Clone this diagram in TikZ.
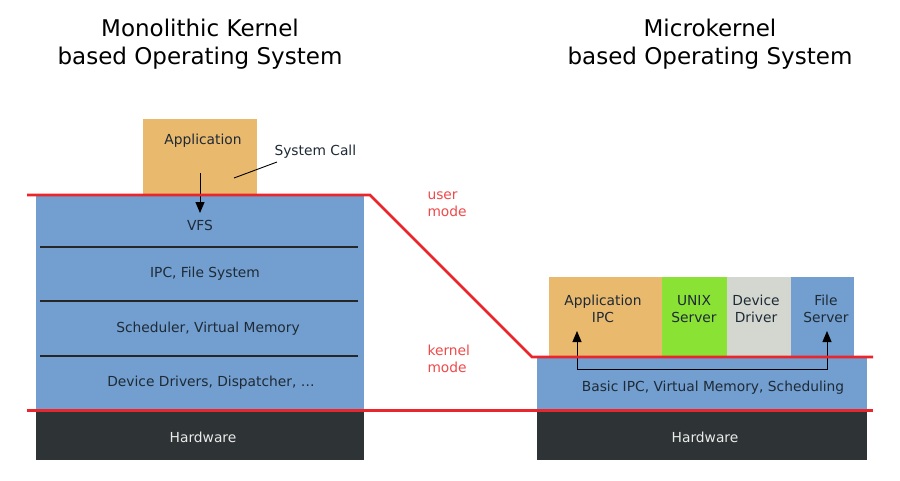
\documentclass[tikz,border=0pt]{standalone}
\usepackage{fontspec}
\setmainfont{DejaVu Sans}
\usetikzlibrary{arrows.meta}
\definecolor{kblue}{HTML}{729FCF}
\definecolor{korange}{HTML}{E9B96E}
\definecolor{kgreen}{HTML}{8AE234}
\definecolor{kgray}{HTML}{D3D7CF}
\definecolor{kdark}{HTML}{2E3436}
\definecolor{kred}{HTML}{E8262B}
\definecolor{ktext}{HTML}{1F2A36}
\definecolor{kmode}{HTML}{EF4A4A}
\tikzset{
  layer/.style={inner sep=0pt, outer sep=0pt},
  lbl/.style={font=\fontsize{13.8}{17.5}\selectfont, text=ktext, align=center},
  hwlbl/.style={font=\fontsize{13.8}{17}\selectfont, text=white!92!black},
  title/.style={font=\fontsize{23}{27.5}\selectfont, text=black, align=center},
  modelbl/.style={font=\fontsize{13.8}{17.5}\selectfont, text=kmode, align=left, anchor=west},
  sep/.style={draw=black!85, line width=1.2pt},
  redline/.style={draw=kred, line width=2.6pt},
  tip/.style={Triangle[length=11pt,width=9pt]},
}
\begin{document}
\begin{tikzpicture}[x=1pt,y=-1pt]
\useasboundingbox[fill=white] (0,0) rectangle (900,480);
% titles
\node[title] (t1) at (200,44) {Monolithic Kernel\\based Operating System};
\node[title] (t2) at (710,44) {Microkernel\\based Operating System};
% left stack
\fill[kblue] (36,195) rectangle (364,410);
\fill[kdark] (36,410) rectangle (364,460);
\fill[korange] (143,119) rectangle (257,195);
\draw[sep] (40,247) -- (358,247);
\draw[sep] (40,301) -- (358,301);
\draw[sep] (40,356) -- (358,356);
\node[lbl] (app) at (203,141) {Application};
\node[lbl] (vfs) at (200,225) {VFS};
\node[lbl] (ipcfs) at (205,274) {IPC, File System};
\node[lbl] (sched) at (208,329) {Scheduler, Virtual Memory};
\node[lbl] (dd) at (211,383) {Device Drivers, Dispatcher, \dots};
\node[hwlbl] (hw1) at (203,437) {Hardware};
\node[lbl, anchor=west] (sc) at (271,152) {System Call};
\coordinate (scA) at (234,178);
\coordinate (scB) at (277,162);
\draw[black, line width=0.9pt] (scA) -- (scB);
\coordinate (arrS) at (200,173);
\coordinate (arrE) at (200,213);
\draw[black, line width=1pt, -{Triangle[length=11pt,width=9pt]}] (arrS) -- (arrE);
% right stack
\fill[kblue] (537,357) rectangle (867,410);
\fill[kdark] (537,410) rectangle (867,460);
\fill[korange] (549,277) rectangle (662,357);
\fill[kgreen] (662,277) rectangle (727,357);
\fill[kgray] (727,277) rectangle (791,357);
\fill[kblue] (791,277) rectangle (854,357);
\node[lbl] (aipc) at (603,309) {Application\\IPC};
\node[lbl] (unix) at (694,309) {UNIX\\Server};
\node[lbl] (devd) at (756,309) {Device\\Driver};
\node[lbl] (fsrv) at (826,309) {File\\Server};
\node[lbl] (basic) at (713,388) {Basic IPC, Virtual Memory, Scheduling};
\node[hwlbl] (hw2) at (705,437) {Hardware};
\coordinate (ipcL) at (577,369);
\coordinate (ipcR) at (827,369);
\coordinate (ipcLt) at (577,331);
\coordinate (ipcRt) at (827,331);
\draw[black, line width=1pt, {Triangle[length=11pt,width=9pt]}-{Triangle[length=11pt,width=9pt]}] (ipcLt) -- (ipcL) -- (ipcR) -- (ipcRt);
% red mode boundaries
\coordinate (r1) at (27,195);
\coordinate (r2) at (370,195);
\coordinate (r3) at (532,357);
\coordinate (r4) at (873,357);
\draw[redline] (r1) -- (r2) -- (r3) -- (r4);
\coordinate (k1) at (27,410.5);
\coordinate (k2) at (873,410.5);
\draw[redline] (k1) -- (k2);
\node[modelbl] (um) at (424,204) {user\\mode};
\node[modelbl] (km) at (424,359) {kernel\\mode};
\end{tikzpicture}
\end{document}
